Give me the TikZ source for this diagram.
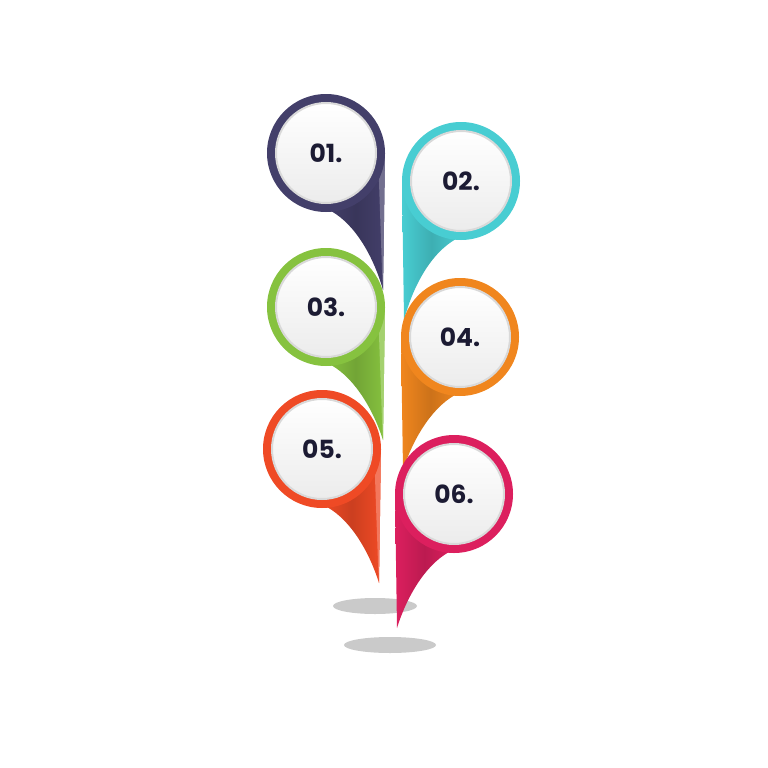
\documentclass[tikz,border=0pt]{standalone}
\usepackage{fontspec}
\setmainfont{Poppins}
\definecolor{pinA}{HTML}{433F6A}
\definecolor{pinB}{HTML}{48CDD2}
\definecolor{pinC}{HTML}{86C23F}
\definecolor{pinD}{HTML}{F0861E}
\definecolor{pinE}{HTML}{EF4A25}
\definecolor{pinF}{HTML}{DC1F5E}
\definecolor{numtext}{HTML}{1C1B33}
\tikzset{
  face/.style={circle,minimum size=100pt,inner sep=0pt,draw=gray!30,line width=2pt,
    top color=white,bottom color=gray!15,font=\fontsize{25}{25}\selectfont\bfseries,text=numtext},
  shadowblob/.style={fill=gray!70,opacity=0.6}
}
\begin{document}
\begin{tikzpicture}[x=1pt,y=-1pt]
  \useasboundingbox (0,0) rectangle (768,768);
  % shadows under the tips
  \fill[shadowblob] (375,606) ellipse (42 and 8);
  \fill[shadowblob] (390,645) ellipse (46 and 8);
  % left pins: tail on the right side
  \foreach \cx/\cy/\ty/\col/\lab/\nm in {326/153/290/pinA/01./one,326/307/440/pinC/03./three,322/449/583/pinE/05./five}{%
    \shade[left color=\col,right color=\col,middle color=\col!85!black] (\cx+59,\cy) -- (\cx+57,\ty) .. controls (\cx+48,\cy+105) and (\cx+30,\cy+72) .. (\cx+5,\cy+58) -- (\cx,\cy) -- cycle;
    \fill[\col!75!white] (\cx+52,\cy) -- (\cx+59,\cy) -- (\cx+57,\ty) -- (\cx+56,\ty-20) -- cycle;
    \fill[\col] (\cx,\cy) circle (59);
    \node[face] (\nm) at (\cx,\cy) {\lab};
  }
  % right pins: tail on the left side
  \foreach \cx/\cy/\ty/\col/\lab/\nm in {461/181/320/pinB/02./two,460/337/470/pinD/04./four,454/494/628/pinF/06./six}{%
    \shade[left color=\col,right color=\col,middle color=\col!85!black] (\cx-59,\cy) -- (\cx-57,\ty) .. controls (\cx-48,\cy+105) and (\cx-30,\cy+72) .. (\cx-5,\cy+58) -- (\cx,\cy) -- cycle;
    \fill[\col] (\cx,\cy) circle (59);
    \node[face] (\nm) at (\cx,\cy) {\lab};
  }
\end{tikzpicture}
\end{document}
